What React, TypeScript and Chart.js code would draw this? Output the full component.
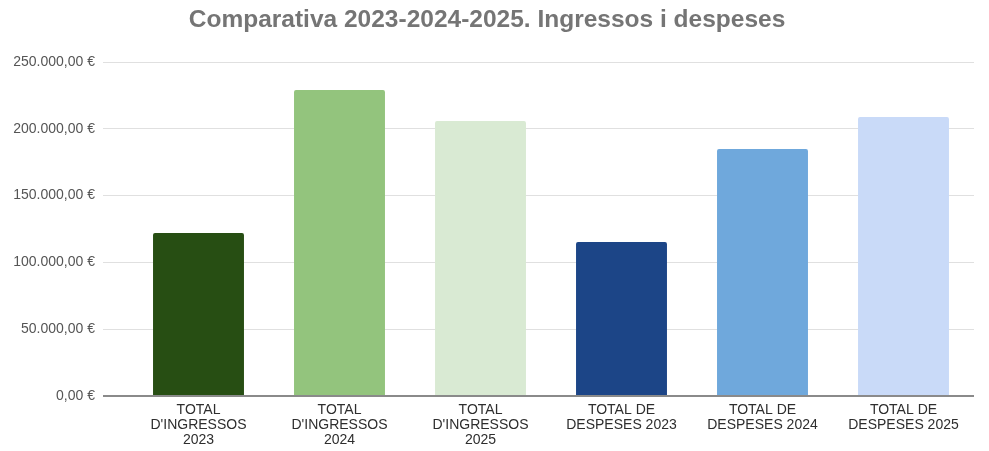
import React, { useEffect, useRef } from "react";
import { Chart, registerables } from "chart.js";

Chart.register(...registerables);

const titleText = "Comparativa 2023-2024-2025. Ingressos i despeses";

const categories: string[][] = [
  ["TOTAL", "D'INGRESSOS", "2023"],
  ["TOTAL", "D'INGRESSOS", "2024"],
  ["TOTAL", "D'INGRESSOS", "2025"],
  ["TOTAL DE", "DESPESES 2023"],
  ["TOTAL DE", "DESPESES 2024"],
  ["TOTAL DE", "DESPESES 2025"],
];

const values: number[] = [122000, 229000, 205800, 115300, 184900, 208800];

const barColors: string[] = ["#274e13", "#93c47d", "#d9ead3", "#1c4587", "#6fa8dc", "#c9daf8"];

const yMax = 250000;
const yStep = 50000;

function formatEuro(v: number): string {
  const intPart = Math.round(Math.abs(v)).toString().replace(/\B(?=(\d{3})+(?!\d))/g, ".");
  return (v < 0 ? "-" : "") + intPart + ",00 €";
}

const FONT = "'Liberation Sans', Arial, Helvetica, sans-serif";

export default function App() {
  const ref = useRef<HTMLCanvasElement | null>(null);

  useEffect(() => {
    if (!ref.current) return;
    const chart = new Chart(ref.current, {
      type: "bar",
      data: {
        labels: categories,
        datasets: [
          {
            data: values,
            backgroundColor: barColors,
            borderRadius: 2,
            borderSkipped: "bottom",
            categoryPercentage: 1,
            barPercentage: 0.645,
          },
        ],
      },
      options: {
        animation: false,
        responsive: false,
        maintainAspectRatio: false,
        layout: { padding: { left: 0, right: 15, top: 0, bottom: 0 } },
        plugins: {
          legend: { display: false },
          tooltip: { enabled: false },
          title: {
            display: true,
            text: titleText,
            color: "#757575",
            font: { family: FONT, size: 24.5, weight: "bold", lineHeight: 1.2 },
            padding: { top: 6, bottom: 26.6 },
          },
        },
        scales: {
          x: {
            grid: { display: false, drawTicks: false, tickLength: 0 },
            border: { display: false },
            ticks: {
              color: "#2e2e2e",
              font: { family: FONT, size: 14, lineHeight: 1.1 },
              padding: 6,
              maxRotation: 0,
              minRotation: 0,
              autoSkip: false,
            },
            afterFit: (scale: any) => {
              scale.height = 55;
            },
          },
          y: {
            min: 0,
            max: yMax,
            border: { display: false },
            grid: {
              color: (ctx: any) => (ctx.tick && ctx.tick.value === 0 ? "#8a8a8a" : "#e0e0e0"),
              lineWidth: (ctx: any) => (ctx.tick && ctx.tick.value === 0 ? 2 : 1),
              drawTicks: true,
              tickLength: 25,
            },
            ticks: {
              stepSize: yStep,
              color: "#555555",
              font: { family: FONT, size: 14 },
              padding: 8,
              callback: (v: any) => formatEuro(Number(v)),
            },
            afterFit: (scale: any) => {
              scale.width = 128;
            },
          },
        },
      },
    });
    return () => chart.destroy();
  }, []);

  return (
    <div style={{ position: "fixed", left: 0, top: 0, width: 989, height: 451, background: "#fff" }}>
      <canvas ref={ref} width={989} height={451} style={{ width: 989, height: 451, display: "block" }} />
    </div>
  );
}
